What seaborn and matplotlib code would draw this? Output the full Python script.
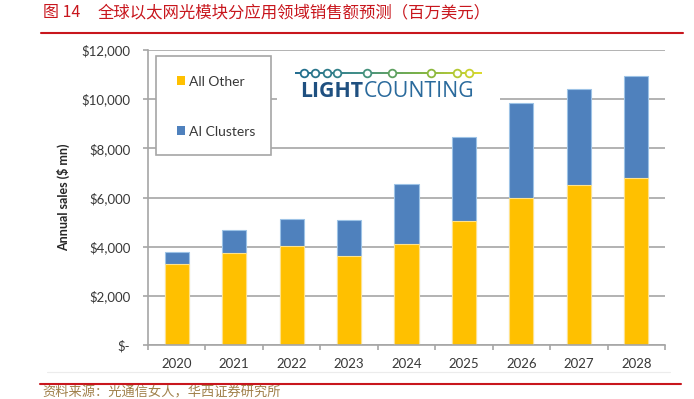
import matplotlib
matplotlib.use("Agg")
import matplotlib.pyplot as plt
import seaborn as sns
import pandas as pd
import numpy as np
from matplotlib.patches import Patch, Rectangle
from matplotlib.lines import Line2D
from matplotlib.collections import LineCollection
from matplotlib.colors import LinearSegmentedColormap

# ---------------- data ----------------
years = ["2020", "2021", "2022", "2023", "2024", "2025", "2026", "2027", "2028"]
all_other = [3310, 3740, 4010, 3630, 4120, 5060, 6000, 6510, 6810]
ai_clusters = [470, 950, 1120, 1470, 2420, 3400, 3840, 3910, 4120]
y_ticks = [0, 2000, 4000, 6000, 8000, 10000, 12000]
y_tick_labels = ["$-", "$2,000", "$4,000", "$6,000", "$8,000", "$10,000", "$12,000"]
series_names = ["All Other", "AI Clusters"]
fig_label = "图 14"
title_text = "全球以太网光模块分应用领域销售额预测（百万美元）"
source_text = "资料来源：光通信女人，华西证券研究所"
y_label = "Annual sales ($ mn)"
logo_bold = "LIGHT"
logo_regular = "COUNTING"

# ---------------- style ----------------
YELLOW = "#FFC000"
BLUE = "#4F81BD"
GRID = "#a6a6a6"
TXT = "#383838"
RED = "#c8161d"

W, H = 694, 399
def fx(x): return x / W
def fy(y): return 1 - y / H

sns.set_theme(style="white")
plt.rcParams['font.family'] = ['Lato', 'Noto Sans CJK SC', 'DejaVu Sans']
CJK = ['Noto Sans CJK SC', 'DejaVu Sans']

df = pd.DataFrame({"year": years, series_names[0]: all_other, series_names[1]: ai_clusters})
df["Total"] = df[series_names[0]] + df[series_names[1]]

fig = plt.figure(figsize=(W / 100, H / 100), dpi=100)
fig.patch.set_facecolor("white")
ax = fig.add_axes([fx(148), fy(345), fx(665) - fx(148), fy(50) - fy(345)])

sns.barplot(data=df, x="year", y="Total", color=BLUE, saturation=1, width=0.42,
            edgecolor="#9dc3e6", linewidth=0.8, ax=ax)
sns.barplot(data=df, x="year", y=series_names[0], color=YELLOW, saturation=1, width=0.42,
            edgecolor="#ffe28a", linewidth=0.8, ax=ax)

ax.set_xlim(-0.5, len(years) - 0.5)
ax.set_ylim(y_ticks[0], y_ticks[-1])
ax.set_yticks(y_ticks)
ax.set_yticklabels(y_tick_labels)
ax.set_xlabel("")
ax.set_ylabel("")
ax.yaxis.grid(True, color=GRID, linewidth=1.2)
ax.xaxis.grid(False)
ax.set_axisbelow(True)
for s in ["top", "right"]:
    ax.spines[s].set_visible(False)
for s in ["left", "bottom"]:
    ax.spines[s].set_color(GRID)
    ax.spines[s].set_linewidth(1.2)

ax.tick_params(axis="y", direction="out", length=3.6, width=1.2, color=GRID,
               labelsize=9.5, labelcolor=TXT, pad=9, left=True)
ax.set_xticks(range(len(years)))
ax.set_xticks(np.arange(-0.5, len(years), 1.0), minor=True)
ax.tick_params(axis="x", which="major", length=0, labelsize=9.5, labelcolor=TXT, pad=9)
ax.tick_params(axis="x", which="minor", direction="out", length=3.6, width=1.2,
               color=GRID, bottom=True)

# y label
fig.text(fx(63), fy(197), y_label, rotation=90, ha="center", va="center",
         fontsize=9, fontweight="bold", color="#262626")

# legend box + legend
fig.add_artist(Rectangle((fx(156), fy(155)), fx(271) - fx(156), fy(56) - fy(155),
                         transform=fig.transFigure, facecolor="white",
                         edgecolor=GRID, linewidth=1.2, zorder=2))
handles = [Patch(facecolor=YELLOW, edgecolor="none"), Patch(facecolor=BLUE, edgecolor="none")]
fig.legend(handles, series_names, loc="upper left", bbox_to_anchor=(fx(177), fy(75.5)),
           frameon=False, handlelength=0.6, handleheight=0.6, handletextpad=0.3,
           labelspacing=2.75, borderpad=0, borderaxespad=0, fontsize=10,
           labelcolor=TXT)

# logo background + logo
fig.add_artist(Rectangle((fx(277), fy(106)), fx(500) - fx(277), fy(56) - fy(106),
                         transform=fig.transFigure, facecolor="white",
                         edgecolor="none", zorder=1.5))
cmap = LinearSegmentedColormap.from_list("lc", ["#1f6a8e", "#3d8c86", "#79b043", "#dcd92a"])
x0, x1, ly = 295, 482, 73
xs = np.linspace(x0, x1, 60)
segs = [[(fx(xs[i]), fy(ly)), (fx(xs[i + 1]), fy(ly))] for i in range(len(xs) - 1)]
lc = LineCollection(segs, colors=[cmap(i / (len(segs) - 1)) for i in range(len(segs))],
                    linewidths=1.4, transform=fig.transFigure, zorder=3)
fig.add_artist(lc)
for cx in [304, 315, 327, 337, 367, 392, 431, 457, 469]:
    c = cmap((cx - x0) / (x1 - x0))
    fig.add_artist(Line2D([fx(cx)], [fy(ly)], marker="o", markersize=5.5,
                          markerfacecolor="white", markeredgecolor=c,
                          markeredgewidth=1.3, transform=fig.transFigure, zorder=4))

logo_size = 13.5
t1 = fig.text(fx(300), fy(97), logo_bold, fontsize=logo_size, fontweight="bold",
              color="#1f5080", family="Open Sans", va="baseline", ha="left", zorder=4)
t2 = fig.text(fx(300), fy(97), logo_regular, fontsize=logo_size, fontweight="normal",
              color="#2a6a9c", family="Open Sans", va="baseline", ha="left", zorder=4)
for _ in range(2):
    fig.canvas.draw()
    bb1 = t1.get_window_extent()
    t2.set_x((bb1.x1 + 0.5) / W)
    fig.canvas.draw()
    bb2 = t2.get_window_extent()
    total = bb2.x1 - bb1.x0
    logo_size = logo_size * 174.0 / total
    t1.set_fontsize(logo_size)
    t2.set_fontsize(logo_size)
fig.canvas.draw()
bb1 = t1.get_window_extent()
t2.set_x((bb1.x1 + 0.5) / W)

# title
fig.text(fx(43), fy(12.5), fig_label, fontsize=11.5, color=RED, family=CJK,
         va="center", ha="left")
fig.text(fx(98), fy(12.5), title_text, fontsize=11.8, color=RED, family=CJK,
         va="center", ha="left")
fig.add_artist(Line2D([fx(41), fx(683)], [fy(32.5), fy(32.5)], color=RED,
                      linewidth=1.5, transform=fig.transFigure))

# bottom lines and source
fig.add_artist(Line2D([fx(47), fx(670)], [fy(372), fy(372)], color="#ececec",
                      linewidth=0.8, transform=fig.transFigure))
fig.add_artist(Line2D([fx(40), fx(681)], [fy(384), fy(384)], color=RED,
                      linewidth=1.5, transform=fig.transFigure))
fig.text(fx(42), fy(393), source_text, fontsize=9.5, color="#a0804a", family=CJK,
         va="center", ha="left")

fig.savefig("out.png", dpi=100, facecolor="white")
